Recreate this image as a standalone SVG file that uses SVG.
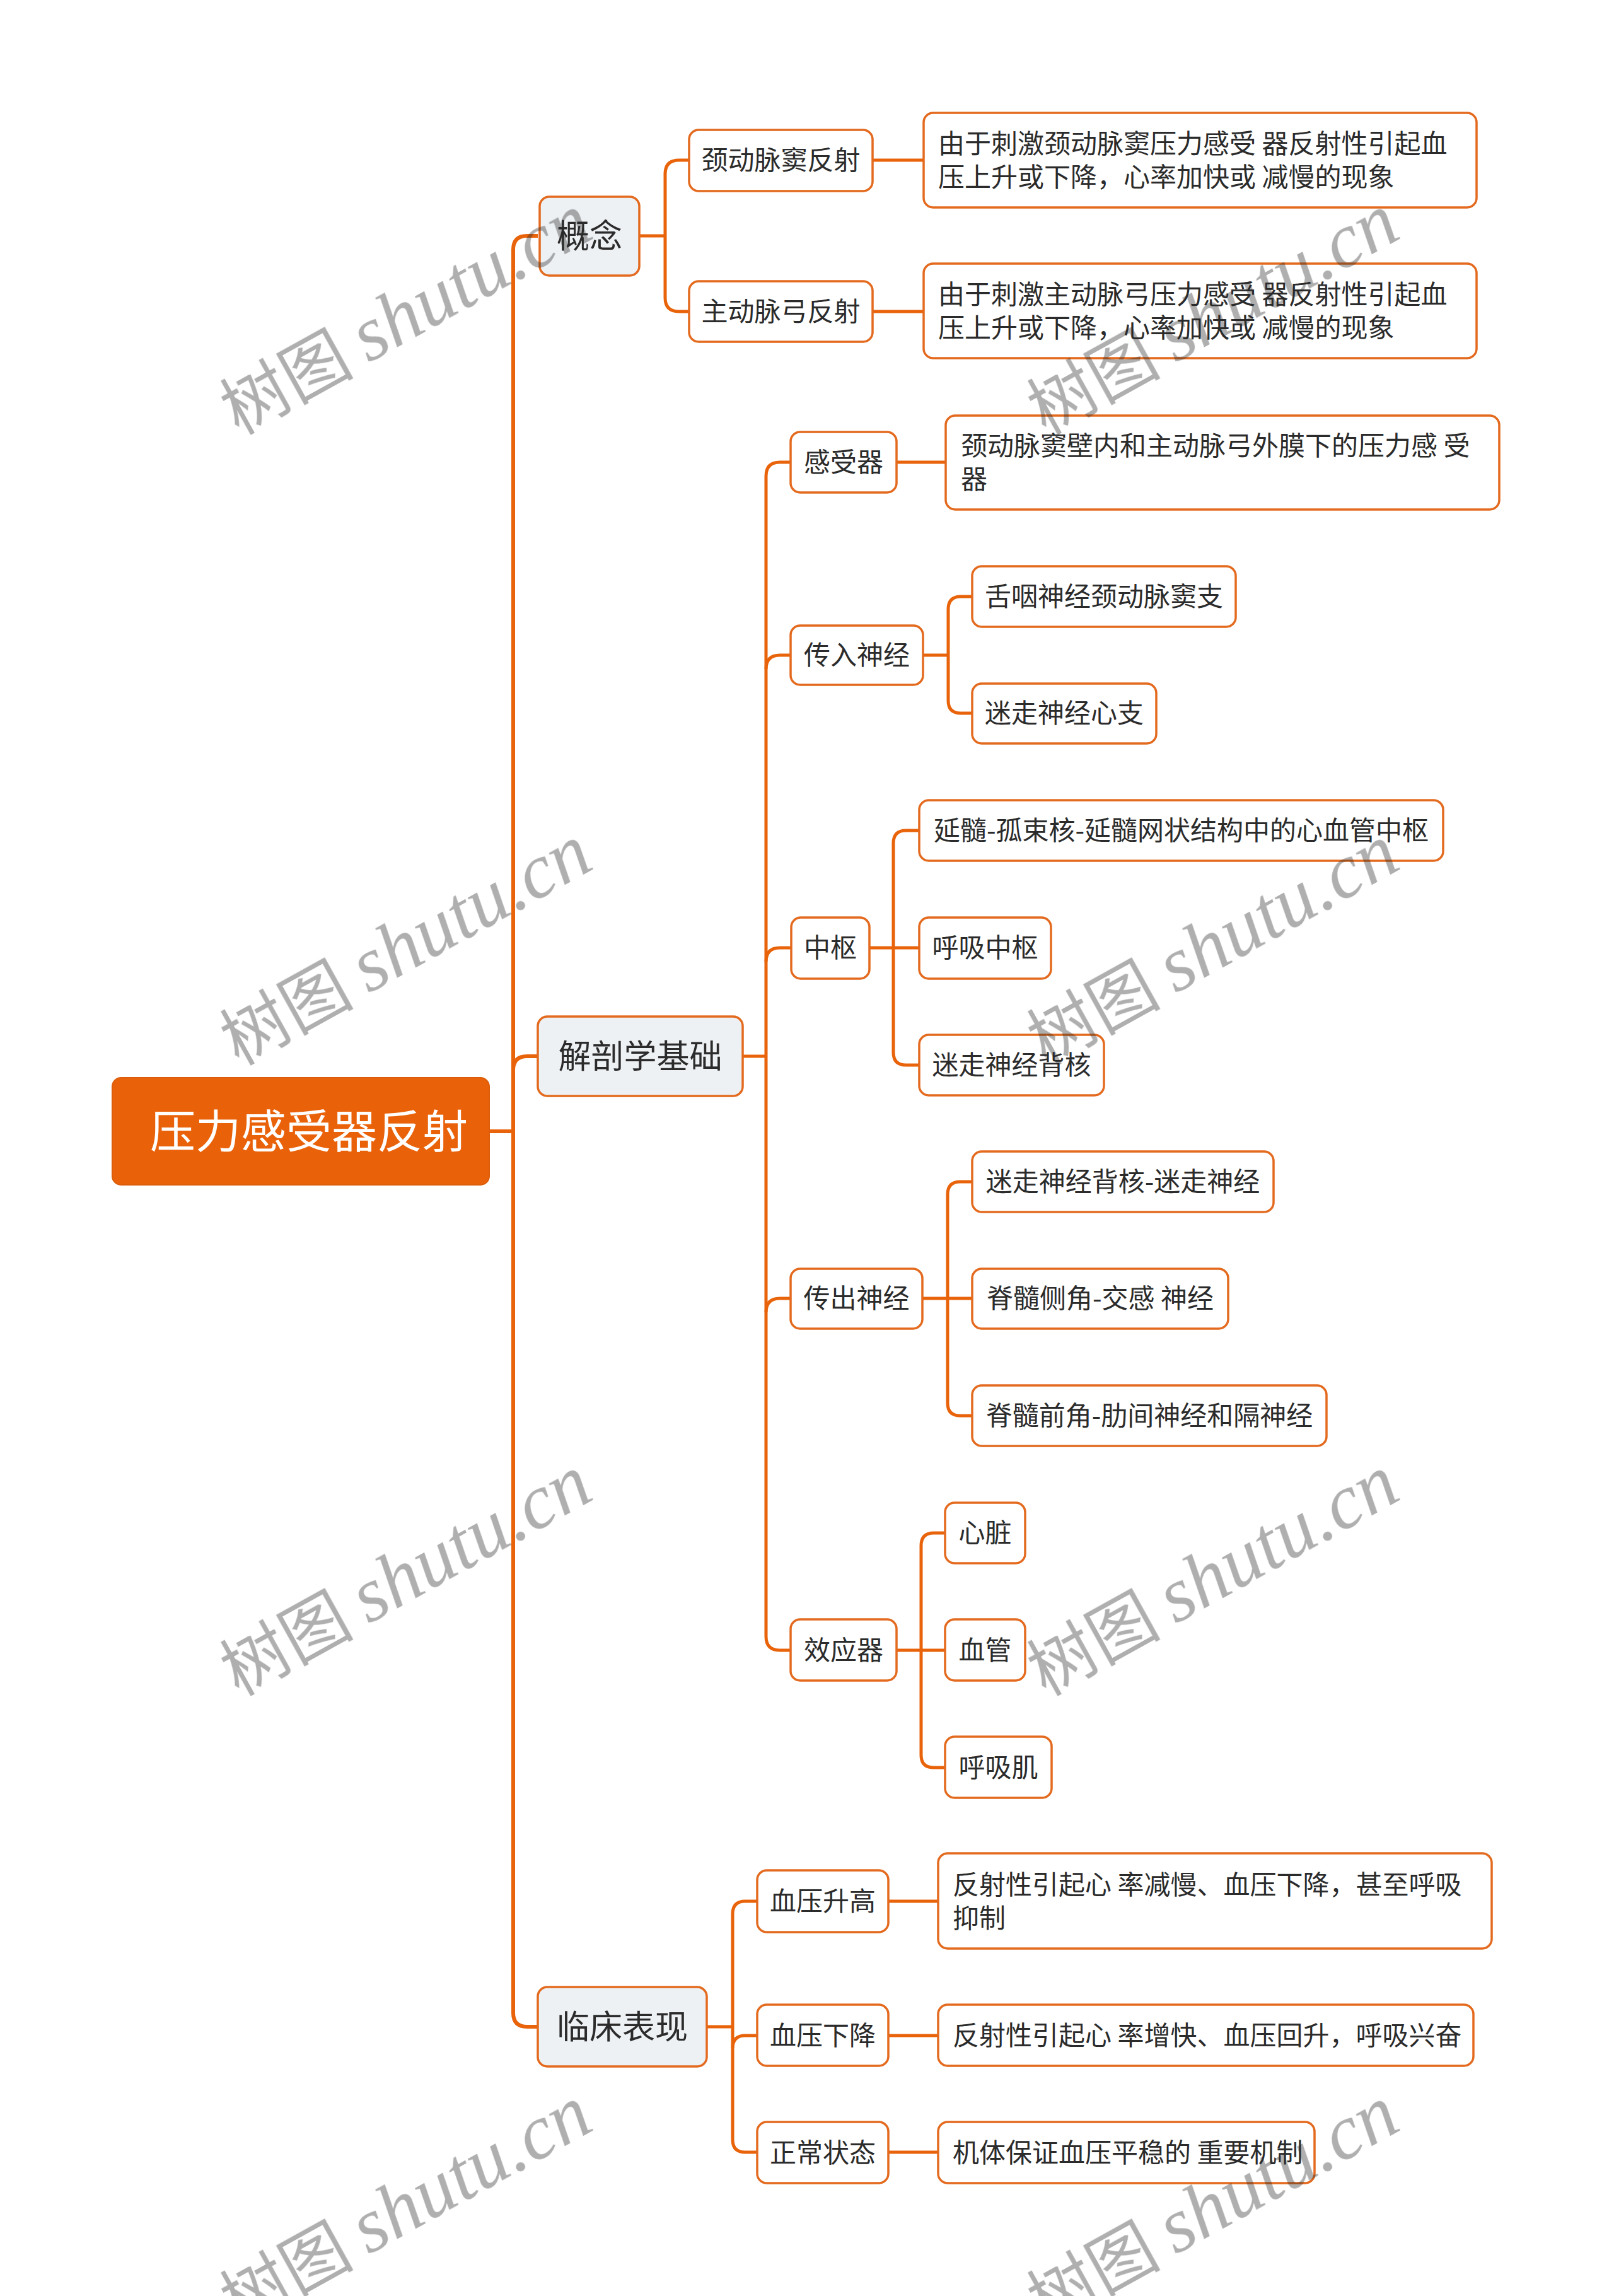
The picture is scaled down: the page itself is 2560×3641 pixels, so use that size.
<svg xmlns="http://www.w3.org/2000/svg" width="2560" height="3641" viewBox="0 0 2560 3641">
<style>
.bg{fill:#ffffff}
.c{fill:none;stroke:#e8630a;stroke-width:5;stroke-linecap:butt;stroke-linejoin:round}
.c1{stroke-width:6}
.n rect{fill:#ffffff;stroke:#e36a1e;stroke-width:3.5}
.l1 rect{fill:#eef1f4}
.root rect{fill:#e9620a;stroke:#dc5c0a;stroke-width:2}
text{font-family:"Noto Sans CJK SC","Noto Sans",sans-serif;fill:#2b2b2b}
.t{font-size:42px}
.t1{font-size:52px}
.root text{fill:#ffffff;font-size:72px}
.wm{fill:#8c8c8c;opacity:0.38;font-size:106px}
.wm .lat{font-family:"Liberation Serif",serif;font-style:italic;font-size:123px}
</style>
<rect class="bg" x="0" y="0" width="2560" height="3641"/>

<g id="connectors">
  <path class="c c1" d="M776,1794 H814"/>
  <path class="c c1" d="M853,374 H836 Q814,374 814,396 V3192 Q814,3214 836,3214 H853"/>
  <path class="c c1" d="M814,1697 Q814,1675 836,1675 H853"/>
  <path class="c" d="M1014,374 H1055"/>
  <path class="c" d="M1093,254 H1077 Q1055,254 1055,276 V472 Q1055,494 1077,494 H1093"/>
  <path class="c" d="M1384,254 H1465"/>
  <path class="c" d="M1384,494 H1465"/>
  <path class="c" d="M1178,1675 H1215"/>
  <path class="c" d="M1254,733 H1237 Q1215,733 1215,755 V2595 Q1215,2617 1237,2617 H1254"/>
  <path class="c" d="M1215,1061 Q1215,1039 1237,1039 H1254"/>
  <path class="c" d="M1215,1525 Q1215,1503 1237,1503 H1255"/>
  <path class="c" d="M1215,2081 Q1215,2059 1237,2059 H1254"/>
  <path class="c" d="M1422,733 H1500"/>
  <path class="c" d="M1464,1039 H1504"/>
  <path class="c" d="M1542,946 H1524 Q1504,946 1504,966 V1111 Q1504,1131 1524,1131 H1542"/>
  <path class="c" d="M1379,1503 H1458"/>
  <path class="c" d="M1458,1317 H1437 Q1417,1317 1417,1337 V1669 Q1417,1689 1437,1689 H1458"/>
  <path class="c" d="M1463,2059 H1542"/>
  <path class="c" d="M1542,1874 H1523 Q1503,1874 1503,1894 V2225 Q1503,2245 1523,2245 H1542"/>
  <path class="c" d="M1422,2617 H1499"/>
  <path class="c" d="M1499,2431 H1481 Q1461,2431 1461,2451 V2783 Q1461,2803 1481,2803 H1499"/>
  <path class="c" d="M1121,3214 H1162"/>
  <path class="c" d="M1201,3015 H1182 Q1162,3015 1162,3035 V3393 Q1162,3413 1182,3413 H1201"/>
  <path class="c" d="M1162,3248 Q1162,3228 1182,3228 H1201"/>
  <path class="c" d="M1409,3015 H1488"/>
  <path class="c" d="M1409,3228 H1488"/>
  <path class="c" d="M1409,3413 H1488"/>
</g>

<g id="root" class="root">
  <rect x="178" y="1709" width="598" height="170" rx="14"/>
  <text x="490" y="1820" text-anchor="middle">压力感受器反射</text>
</g>

<g id="n-gainian" class="n l1">
  <rect x="856" y="312" width="158" height="125" rx="15"/>
  <text class="t1" x="935" y="393" text-anchor="middle">概念</text>
</g>
<g id="n-jiepou" class="n l1">
  <rect x="853" y="1612" width="325" height="126" rx="15"/>
  <text class="t1" x="1015.5" y="1694" text-anchor="middle">解剖学基础</text>
</g>
<g id="n-linchuang" class="n l1">
  <rect x="853" y="3151" width="268" height="126" rx="15"/>
  <text class="t1" x="987" y="3233" text-anchor="middle">临床表现</text>
</g>

<g id="n-jdm" class="n">
  <rect x="1093" y="206" width="291" height="97" rx="15"/>
  <text class="t" x="1238.5" y="269" text-anchor="middle">颈动脉窦反射</text>
</g>
<g id="n-jdm-d" class="n">
  <rect x="1465" y="179" width="877" height="150" rx="15"/>
  <text class="t" x="1488" y="243">由于刺激颈动脉窦压力感受 器反射性引起血</text>
  <text class="t" x="1488" y="296">压上升或下降，心率加快或 减慢的现象</text>
</g>
<g id="n-zdm" class="n">
  <rect x="1093" y="446" width="291" height="96" rx="15"/>
  <text class="t" x="1238.5" y="509" text-anchor="middle">主动脉弓反射</text>
</g>
<g id="n-zdm-d" class="n">
  <rect x="1465" y="418" width="877" height="150" rx="15"/>
  <text class="t" x="1488" y="482">由于刺激主动脉弓压力感受 器反射性引起血</text>
  <text class="t" x="1488" y="535">压上升或下降，心率加快或 减慢的现象</text>
</g>

<g id="n-gsq" class="n">
  <rect x="1254" y="685" width="168" height="96" rx="15"/>
  <text class="t" x="1338" y="748" text-anchor="middle">感受器</text>
</g>
<g id="n-gsq-d" class="n">
  <rect x="1500" y="659" width="878" height="149" rx="15"/>
  <text class="t" x="1524" y="722">颈动脉窦壁内和主动脉弓外膜下的压力感 受</text>
  <text class="t" x="1524" y="775">器</text>
</g>

<g id="n-crsj" class="n">
  <rect x="1254" y="992" width="210" height="94" rx="15"/>
  <text class="t" x="1359" y="1054" text-anchor="middle">传入神经</text>
</g>
<g id="n-sy" class="n">
  <rect x="1542" y="898" width="418" height="96" rx="15"/>
  <text class="t" x="1751" y="961" text-anchor="middle">舌咽神经颈动脉窦支</text>
</g>
<g id="n-mzxz" class="n">
  <rect x="1542" y="1084" width="292" height="95" rx="15"/>
  <text class="t" x="1688" y="1146" text-anchor="middle">迷走神经心支</text>
</g>

<g id="n-zs" class="n">
  <rect x="1255" y="1455" width="124" height="97" rx="15"/>
  <text class="t" x="1317" y="1518" text-anchor="middle">中枢</text>
</g>
<g id="n-ys" class="n">
  <rect x="1458" y="1269" width="831" height="96" rx="15"/>
  <text class="t" x="1873.5" y="1332" text-anchor="middle">延髓-孤束核-延髓网状结构中的心血管中枢</text>
</g>
<g id="n-hxzs" class="n">
  <rect x="1458" y="1455" width="209" height="97" rx="15"/>
  <text class="t" x="1562.5" y="1518" text-anchor="middle">呼吸中枢</text>
</g>
<g id="n-mzbh" class="n">
  <rect x="1458" y="1641" width="293" height="96" rx="15"/>
  <text class="t" x="1604.5" y="1704" text-anchor="middle">迷走神经背核</text>
</g>

<g id="n-ccsj" class="n">
  <rect x="1254" y="2012" width="209" height="95" rx="15"/>
  <text class="t" x="1358.5" y="2074" text-anchor="middle">传出神经</text>
</g>
<g id="n-mzbh2" class="n">
  <rect x="1542" y="1826" width="478" height="96" rx="15"/>
  <text class="t" x="1781" y="1889" text-anchor="middle">迷走神经背核-迷走神经</text>
</g>
<g id="n-jscj" class="n">
  <rect x="1542" y="2012" width="406" height="95" rx="15"/>
  <text class="t" x="1745" y="2074" text-anchor="middle">脊髓侧角-交感 神经</text>
</g>
<g id="n-jsqj" class="n">
  <rect x="1542" y="2197" width="562" height="96" rx="15"/>
  <text class="t" x="1823" y="2260" text-anchor="middle">脊髓前角-肋间神经和隔神经</text>
</g>

<g id="n-xyq" class="n">
  <rect x="1254" y="2568" width="168" height="97" rx="15"/>
  <text class="t" x="1338" y="2632" text-anchor="middle">效应器</text>
</g>
<g id="n-xz" class="n">
  <rect x="1499" y="2383" width="127" height="96" rx="15"/>
  <text class="t" x="1562.5" y="2446" text-anchor="middle">心脏</text>
</g>
<g id="n-xg" class="n">
  <rect x="1499" y="2568" width="127" height="97" rx="15"/>
  <text class="t" x="1562.5" y="2632" text-anchor="middle">血管</text>
</g>
<g id="n-hxj" class="n">
  <rect x="1499" y="2754" width="169" height="97" rx="15"/>
  <text class="t" x="1583.5" y="2818" text-anchor="middle">呼吸肌</text>
</g>

<g id="n-xysg" class="n">
  <rect x="1201" y="2966" width="208" height="98" rx="15"/>
  <text class="t" x="1305" y="3030" text-anchor="middle">血压升高</text>
</g>
<g id="n-xysg-d" class="n">
  <rect x="1488" y="2939" width="878" height="151" rx="15"/>
  <text class="t" x="1511" y="3004">反射性引起心 率减慢、血压下降，甚至呼吸</text>
  <text class="t" x="1511" y="3057">抑制</text>
</g>
<g id="n-xyxj" class="n">
  <rect x="1201" y="3179" width="208" height="97" rx="15"/>
  <text class="t" x="1305" y="3243" text-anchor="middle">血压下降</text>
</g>
<g id="n-xyxj-d" class="n">
  <rect x="1488" y="3179" width="849" height="97" rx="15"/>
  <text class="t" x="1511" y="3243">反射性引起心 率增快、血压回升，呼吸兴奋</text>
</g>
<g id="n-zczt" class="n">
  <rect x="1201" y="3365" width="208" height="97" rx="15"/>
  <text class="t" x="1305" y="3429" text-anchor="middle">正常状态</text>
</g>
<g id="n-zczt-d" class="n">
  <rect x="1488" y="3365" width="597" height="97" rx="15"/>
  <text class="t" x="1511" y="3429">机体保证血压平稳的 重要机制</text>
</g>

<g id="watermarks" class="wm">
  <text x="662" y="533" text-anchor="middle" transform="rotate(-29 662 533)">树图 <tspan class="lat">shutu.cn</tspan></text>
  <text x="1942" y="533" text-anchor="middle" transform="rotate(-29 1942 533)">树图 <tspan class="lat">shutu.cn</tspan></text>
  <text x="662" y="1533" text-anchor="middle" transform="rotate(-29 662 1533)">树图 <tspan class="lat">shutu.cn</tspan></text>
  <text x="1942" y="1533" text-anchor="middle" transform="rotate(-29 1942 1533)">树图 <tspan class="lat">shutu.cn</tspan></text>
  <text x="662" y="2533" text-anchor="middle" transform="rotate(-29 662 2533)">树图 <tspan class="lat">shutu.cn</tspan></text>
  <text x="1942" y="2533" text-anchor="middle" transform="rotate(-29 1942 2533)">树图 <tspan class="lat">shutu.cn</tspan></text>
  <text x="662" y="3533" text-anchor="middle" transform="rotate(-29 662 3533)">树图 <tspan class="lat">shutu.cn</tspan></text>
  <text x="1942" y="3533" text-anchor="middle" transform="rotate(-29 1942 3533)">树图 <tspan class="lat">shutu.cn</tspan></text>
</g>
</svg>
